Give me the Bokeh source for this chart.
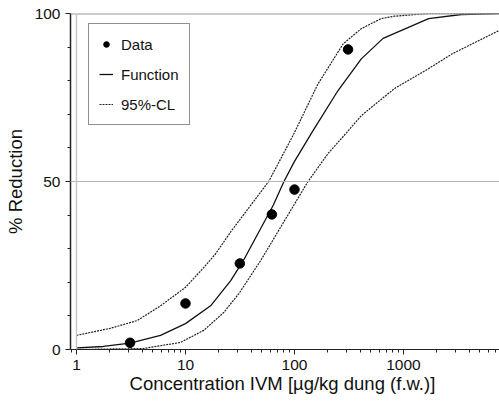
from bokeh.plotting import figure
from bokeh.models import Span, FixedTicker, LogTicker, PrintfTickFormatter, Legend, LegendItem
from bokeh.embed import file_html
from bokeh.resources import INLINE

# Observed data
conc = [3.1, 10, 31.5, 62, 100, 310]
reduction = [2.0, 13.7, 25.6, 40.2, 47.6, 89.3]

# Fitted function
fit_x = [1, 1.76, 3.1, 5.9, 10, 17, 26, 34, 64, 80, 100, 147, 250, 410, 650, 1700, 3400, 7600]
fit_y = [0.5, 0.9, 1.9, 4.2, 7.7, 13, 20.5, 26.5, 43, 50, 56, 65, 77, 86.5, 92.6, 98.5, 99.7, 100]

# Upper 95% confidence limit
up_x = [1, 2.04, 3.6, 5.9, 10, 14.7, 18.9, 26.5, 58, 98, 164, 280, 410, 627, 830, 1700, 7600]
up_y = [4.2, 6.3, 8.6, 13, 18.5, 24.4, 28.5, 35.4, 50, 64, 79, 91, 95.5, 98.5, 99.2, 100, 100]

# Lower 95% confidence limit
lo_x = [1, 4.1, 9, 14.7, 22.4, 31, 49, 133, 203, 300, 410, 627, 830, 1700, 2800, 7600]
lo_y = [0, 0.3, 2.1, 5.7, 11, 16.7, 26.5, 50, 58.3, 64.5, 69.6, 74.5, 77.7, 83.6, 88, 95]

y_major = [0, 50, 100]
y_minor = [10, 20, 30, 40, 60, 70, 80, 90]

FONT = "Liberation Sans"

p = figure(width=499, height=404, x_axis_type="log", x_range=(0.881, 7600), y_range=(0, 100),
           output_backend="svg", toolbar_location=None,
           min_border_left=70, min_border_right=0, min_border_top=13, min_border_bottom=55)
p.outline_line_color = None
p.xgrid.visible = False
p.ygrid.visible = False

p.add_layout(Span(location=50, dimension="width", line_color="#b4b4b4", line_width=1))
p.add_layout(Span(location=100, dimension="width", line_color="#9a9a9a", line_width=2))
p.add_layout(Span(location=1, dimension="height", line_color="#c8c8c8", line_width=1.5))

r_up = p.line(up_x, up_y, line_color="#222222", line_width=1.2, line_dash="2 1")
r_lo = p.line(lo_x, lo_y, line_color="#222222", line_width=1.2, line_dash="2 1")
r_fit = p.line(fit_x, fit_y, line_color="#111111", line_width=1.3)
r_data = p.scatter(conc, reduction, size=9.5, fill_color="black", line_color="black")

# axes
p.yaxis.ticker = FixedTicker(ticks=y_major, minor_ticks=y_minor)
p.xaxis.ticker = LogTicker(num_minor_ticks=10)
p.xaxis.formatter = PrintfTickFormatter(format="%d")
for ax in (p.xaxis, p.yaxis):
    ax.major_tick_out = 5
    ax.major_tick_in = 0
    ax.minor_tick_out = 3
    ax.minor_tick_in = 0
    ax.major_label_text_font = FONT
    ax.major_label_text_font_size = "15.5px"
    ax.major_label_text_color = "#111111"
    ax.axis_label_text_font = FONT
    ax.axis_label_text_font_size = "18.5px"
    ax.axis_label_text_font_style = "normal"
    ax.axis_label_text_color = "#111111"
    ax.major_label_standoff = 5
    ax.axis_line_color = "#222222"
    ax.major_tick_line_color = "#222222"
    ax.minor_tick_line_color = "#222222"
p.xaxis.axis_label_standoff = 0
p.yaxis.axis_label_standoff = 6
p.yaxis.axis_line_width = 1.5
p.xaxis.axis_label = "Concentration  IVM [\u00b5g/kg dung (f.w.)]"
p.yaxis.axis_label = "% Reduction"

legend = Legend(items=[LegendItem(label="Data", renderers=[r_data]),
                       LegendItem(label="Function", renderers=[r_fit]),
                       LegendItem(label="95%-CL", renderers=[r_up])],
                location=(18, 224), padding=10, spacing=10, margin=0,
                label_height=20, glyph_height=20, glyph_width=14, label_standoff=8,
                label_text_font=FONT, label_text_font_size="15px", label_text_color="#111111",
                border_line_color="#222222", border_line_width=1,
                background_fill_color="white", background_fill_alpha=1)
p.add_layout(legend)

open("out.html", "w").write(file_html(p, INLINE))
